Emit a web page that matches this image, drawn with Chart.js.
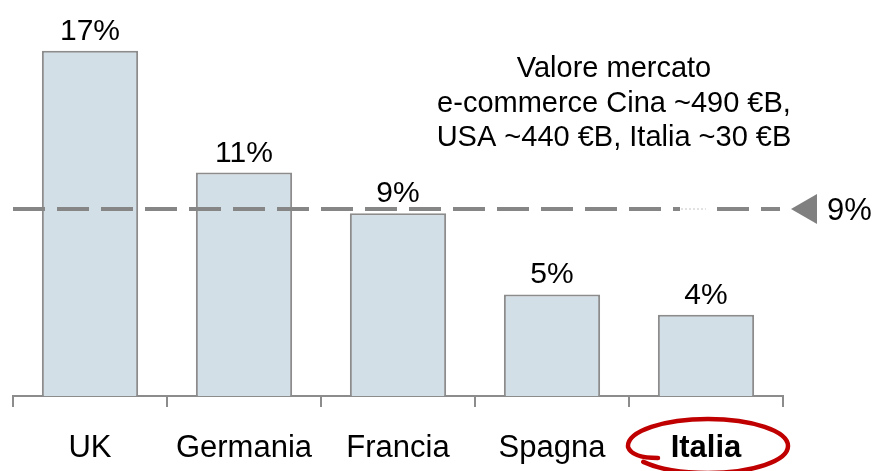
<!DOCTYPE html>
<html>
<head>
<meta charset="utf-8">
<script src="https://cdn.jsdelivr.net/npm/chart.js@4/dist/chart.umd.min.js"></script>
<style>
  html, body { margin: 0; padding: 0; background: #fff; }
  #wrap { width: 875px; height: 471px; }
</style>
</head>
<body>
<div id="wrap"><canvas id="chart" width="875" height="471"></canvas></div>
<script>
// dati
const paesi = ['UK', 'Germania', 'Francia', 'Spagna', 'Italia'];
const quote = [17, 11, 9, 5, 4];
const etichette = ['17%', '11%', '9%', '5%', '4%'];
const media = 9.2;
const etichettaMedia = '9%';
const nota = ['Valore mercato', 'e-commerce Cina ~490 €B,', 'USA ~440 €B, Italia ~30 €B'];
const evidenziato = 'Italia';

const fontBase = '"Liberation Sans", Arial, sans-serif';

// plugin: etichette, linea media, nota e cerchio rosso
const extra = {
    id: 'extra',
    afterDatasetsDraw(chart) {
        const ctx = chart.ctx;
        const x = chart.scales.x;
        const y = chart.scales.y;
        const meta = chart.getDatasetMeta(0);

        ctx.save();

        // linea tratteggiata della media
        const ym = y.getPixelForValue(media);
        ctx.strokeStyle = '#868686';
        ctx.lineWidth = 4;
        ctx.setLineDash([32, 12]);
        ctx.beginPath();
        ctx.moveTo(x.left, ym);
        ctx.lineTo(x.right - 3, ym);
        ctx.stroke();
        ctx.setLineDash([]);
        // pezzo sbiadito vicino alla nota
        ctx.fillStyle = '#fff';
        ctx.fillRect(680, ym - 3, 26, 6);
        ctx.strokeStyle = '#e2e2e2';
        ctx.lineWidth = 2;
        ctx.setLineDash([2, 2]);
        ctx.beginPath();
        ctx.moveTo(681, ym);
        ctx.lineTo(706, ym);
        ctx.stroke();
        ctx.setLineDash([]);

        // triangolo
        ctx.fillStyle = '#808080';
        ctx.beginPath();
        ctx.moveTo(x.right + 8, ym);
        ctx.lineTo(x.right + 34, ym - 15);
        ctx.lineTo(x.right + 34, ym + 15);
        ctx.closePath();
        ctx.fill();

        ctx.fillStyle = '#000';
        ctx.font = '31px ' + fontBase;
        ctx.textAlign = 'left';
        ctx.textBaseline = 'alphabetic';
        ctx.fillText(etichettaMedia, x.right + 44, ym + 11);

        // etichette sopra le barre
        ctx.font = '30px ' + fontBase;
        ctx.textAlign = 'center';
        meta.data.forEach((bar, i) => {
            ctx.fillText(etichette[i], bar.x, bar.y - 11);
        });

        // etichette asse x
        paesi.forEach((p, i) => {
            ctx.font = (p === evidenziato ? 'bold ' : '') + '31px ' + fontBase;
            ctx.fillText(p, x.getPixelForValue(i), 457);
        });

        // nota
        ctx.font = '29px ' + fontBase;
        nota.forEach((riga, i) => {
            ctx.fillText(riga, 614, 77 + i * 34.5);
        });

        // cerchio rosso attorno a Italia
        const xi = x.getPixelForValue(paesi.indexOf(evidenziato));
        ctx.strokeStyle = '#c00000';
        ctx.lineWidth = 4.5;
        ctx.lineCap = 'round';
        ctx.beginPath();
        ctx.ellipse(xi + 2, 446, 80, 27, 0, Math.PI * 1.0, Math.PI * 2.8);
        ctx.stroke();
        ctx.beginPath();
        ctx.moveTo(xi - 78, 447);
        ctx.quadraticCurveTo(xi - 74, 458, xi - 48, 458);
        ctx.stroke();
        ctx.restore();
    }
};

new Chart(document.getElementById('chart'), {
    type: 'bar',
    data: {
        labels: paesi,
        datasets: [{
            data: quote,
            backgroundColor: '#d3dfe6',
            borderColor: '#8c8c8c',
            borderWidth: 2,
            categoryPercentage: 1,
            barPercentage: 0.625
        }]
    },
    options: {
        responsive: false,
        devicePixelRatio: 1,
        animation: false,
        layout: { padding: { left: 13, right: 92, top: 10, bottom: 64 } },
        plugins: { legend: { display: false }, tooltip: { enabled: false } },
        scales: {
            y: { display: false, min: 0, max: 19 },
            x: {
                grid: {
                    offset: true,
                    drawOnChartArea: false,
                    drawTicks: true,
                    tickLength: 11,
                    color: '#8c8c8c',
                    lineWidth: 2
                },
                border: { color: '#8c8c8c', width: 2 },
                ticks: { display: false }
            }
        }
    },
    plugins: [extra]
});
</script>
</body>
</html>
